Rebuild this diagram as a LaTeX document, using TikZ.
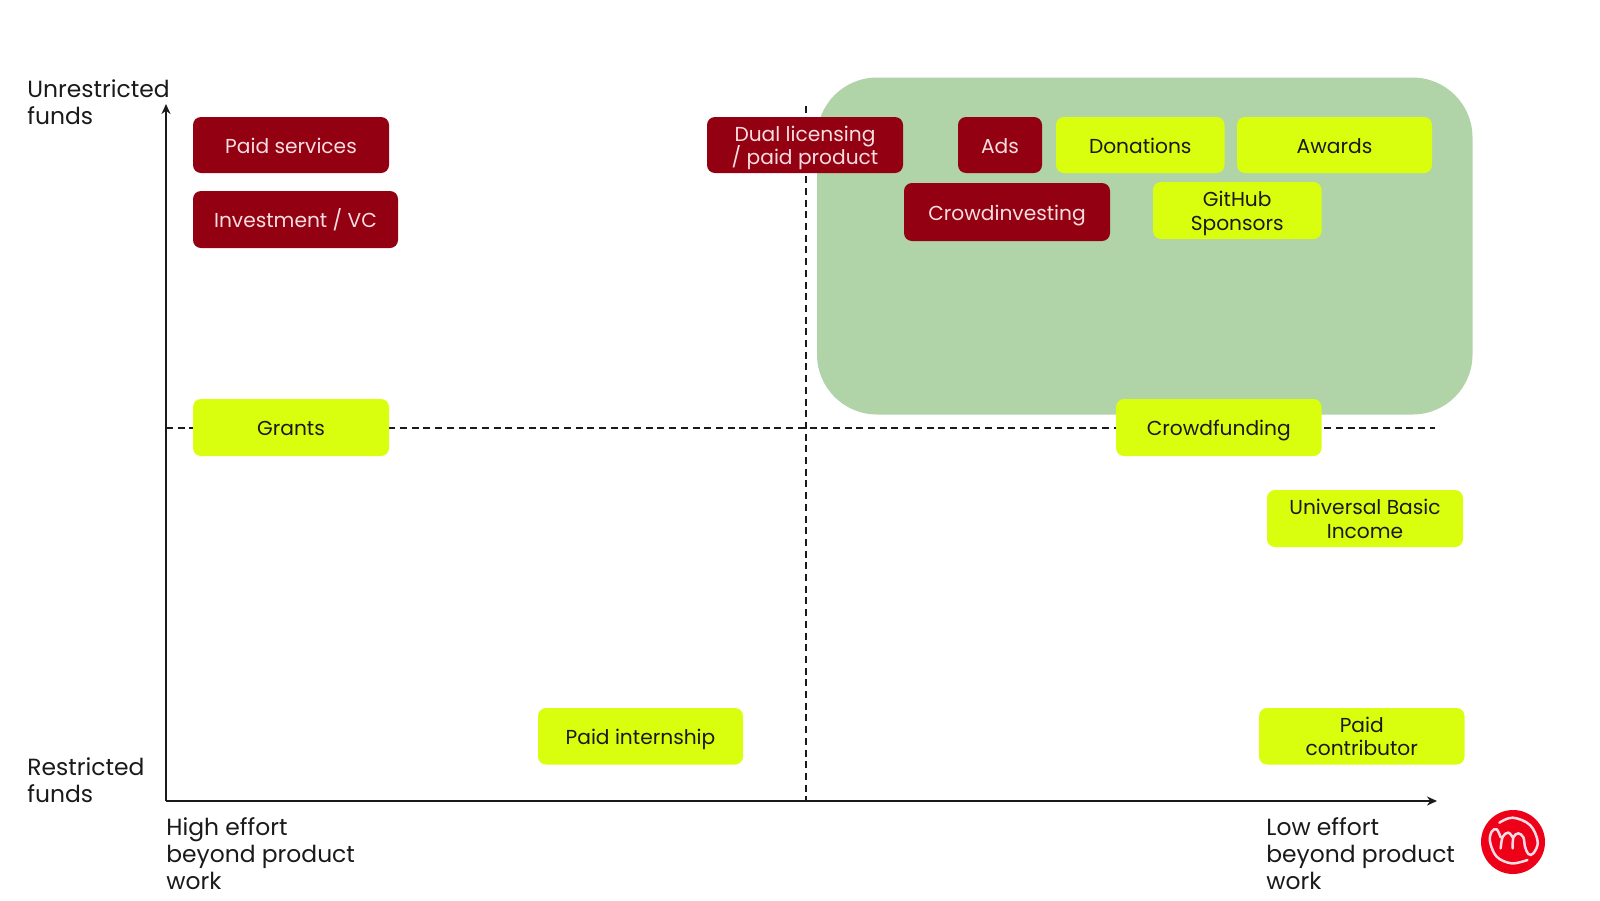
\documentclass[tikz,border=0pt]{standalone}
\usepackage{fontspec}
\setmainfont{Poppins}
\usetikzlibrary{arrows.meta}
\definecolor{fundred}{HTML}{930011}
\definecolor{fundlime}{HTML}{D9FF0F}
\definecolor{zonegreen}{HTML}{B1D3A8}
\definecolor{inkdark}{HTML}{1A1A1A}
\definecolor{paletext}{HTML}{F8DDE0}
\definecolor{logored}{HTML}{EE0018}
\definecolor{logoline}{HTML}{FBDDE6}
% Keeps the line spacing exact, whatever the glyphs in the lines
\newcommand{\exactlines}{\lineskiplimit=-20pt\relax}
\tikzset{
  x=0.5pt, y=-0.5pt,
  fundbox/.style={rounded corners=4pt, inner sep=0pt, align=center, font=\fontsize{10.1}{11.7}\selectfont\exactlines},
  redfund/.style={fundbox, fill=fundred, text=paletext},
  limefund/.style={fundbox, fill=fundlime, text=inkdark},
  axislabel/.style={anchor=west, align=left, inner sep=0pt, text=inkdark, font=\fontsize{11.7}{13.5}\selectfont\exactlines},
  axisline/.style={draw=inkdark, line width=0.9pt, -{Stealth[length=5pt,width=4.5pt]}},
  midline/.style={draw=inkdark, line width=0.9pt, dash pattern=on 3.5pt off 2.35pt},
  logostroke/.style={draw=logoline, line width=1.25pt, line cap=round}
}
% Fixed-height strut, so that every line sits alike in its box
\newcommand{\fundstrut}{\rule[-3pt]{0pt}{14pt}}
% A funding box given by its style, name, corners and text
\newcommand{\fundnode}[7]{%
  \pgfmathsetlengthmacro{\boxw}{(#5-#3)*0.5pt}%
  \pgfmathsetlengthmacro{\boxh}{(#6-#4)*0.5pt}%
  \node[#1, minimum width=\boxw, minimum height=\boxh] (#2) at ({(#3+#5)/2},{(#4+#6)/2}) {\fundstrut#7\fundstrut};%
}
\begin{document}
\begin{tikzpicture}
\useasboundingbox[fill=white] (0,0) rectangle (1600,900);

% Target zone
\fill[zonegreen, rounded corners=30pt] (817,77.5) rectangle (1472.5,414.5);

% Axes and quadrant dividers
\coordinate (origin) at (166,801);
\coordinate (ytop) at (166,104);
\coordinate (xend) at (1437,801);
\coordinate (hleft) at (166,428);
\coordinate (hright) at (1435,428);
\coordinate (vtop) at (806,106);
\coordinate (vbottom) at (806,801);
\draw[midline] (hleft) -- (hright);
\draw[midline] (vtop) -- (vbottom);
\draw[axisline] (origin) -- (ytop);
\draw[axisline] (origin) -- (xend);

% Funding options
\fundnode{redfund}{paidservices}{193}{117}{389}{173}{Paid services}
\fundnode{redfund}{investment}{193}{191}{398}{248}{Investment / VC}
\fundnode{redfund}{duallicensing}{707}{117}{903}{173}{Dual licensing\\/ paid product}
\fundnode{redfund}{ads}{958}{117}{1042}{173}{Ads}
\fundnode{limefund}{donations}{1056}{117}{1224.5}{173}{Donations}
\fundnode{limefund}{awards}{1237}{117}{1432}{173}{Awards}
\fundnode{redfund}{crowdinvesting}{904}{183}{1110}{241}{Crowdinvesting}
\fundnode{limefund}{github}{1153}{182}{1321.5}{239}{GitHub\\Sponsors}
\fundnode{limefund}{grants}{193}{399}{389}{456}{Grants}
\fundnode{limefund}{crowdfunding}{1116}{399}{1321.5}{456}{Crowdfunding}
\fundnode{limefund}{ubi}{1267}{490}{1463}{547}{Universal Basic\\Income}
\fundnode{limefund}{internship}{538}{708}{743}{764.5}{Paid internship}
\fundnode{limefund}{contributor}{1259}{708}{1464.5}{764.5}{Paid\\contributor}

% Axis labels
\node[axislabel] (unrestricted) at (27,102) {Unrestricted\\funds};
\node[axislabel] (restricted) at (27,780) {Restricted\\funds};
\node[axislabel] (higheffort) at (166,854) {High effort\\beyond product\\work};
\node[axislabel] (loweffort) at (1266,854) {Low effort\\beyond product\\work};

% Logo mark
\fill[logored] (1513,842) circle (16pt);
\begin{scope}[shift={(1440,780)}, x=0.1667pt, y=-0.1667pt]
  \draw[logostroke] plot[smooth, tension=0.6] coordinates {(178,128) (218,113) (270,135) (293,185) (280,220) (265,222) (255,200) (250,172) (235,160) (220,172) (218,205)};
  \draw[logostroke] plot[smooth, tension=0.6] coordinates {(218,172) (205,158) (188,170) (182,205)};
  \draw[logostroke] plot[smooth, tension=0.6] coordinates {(182,172) (170,148) (155,155) (150,185) (170,230) (215,250) (262,240)};
\end{scope}
\end{tikzpicture}
\end{document}
